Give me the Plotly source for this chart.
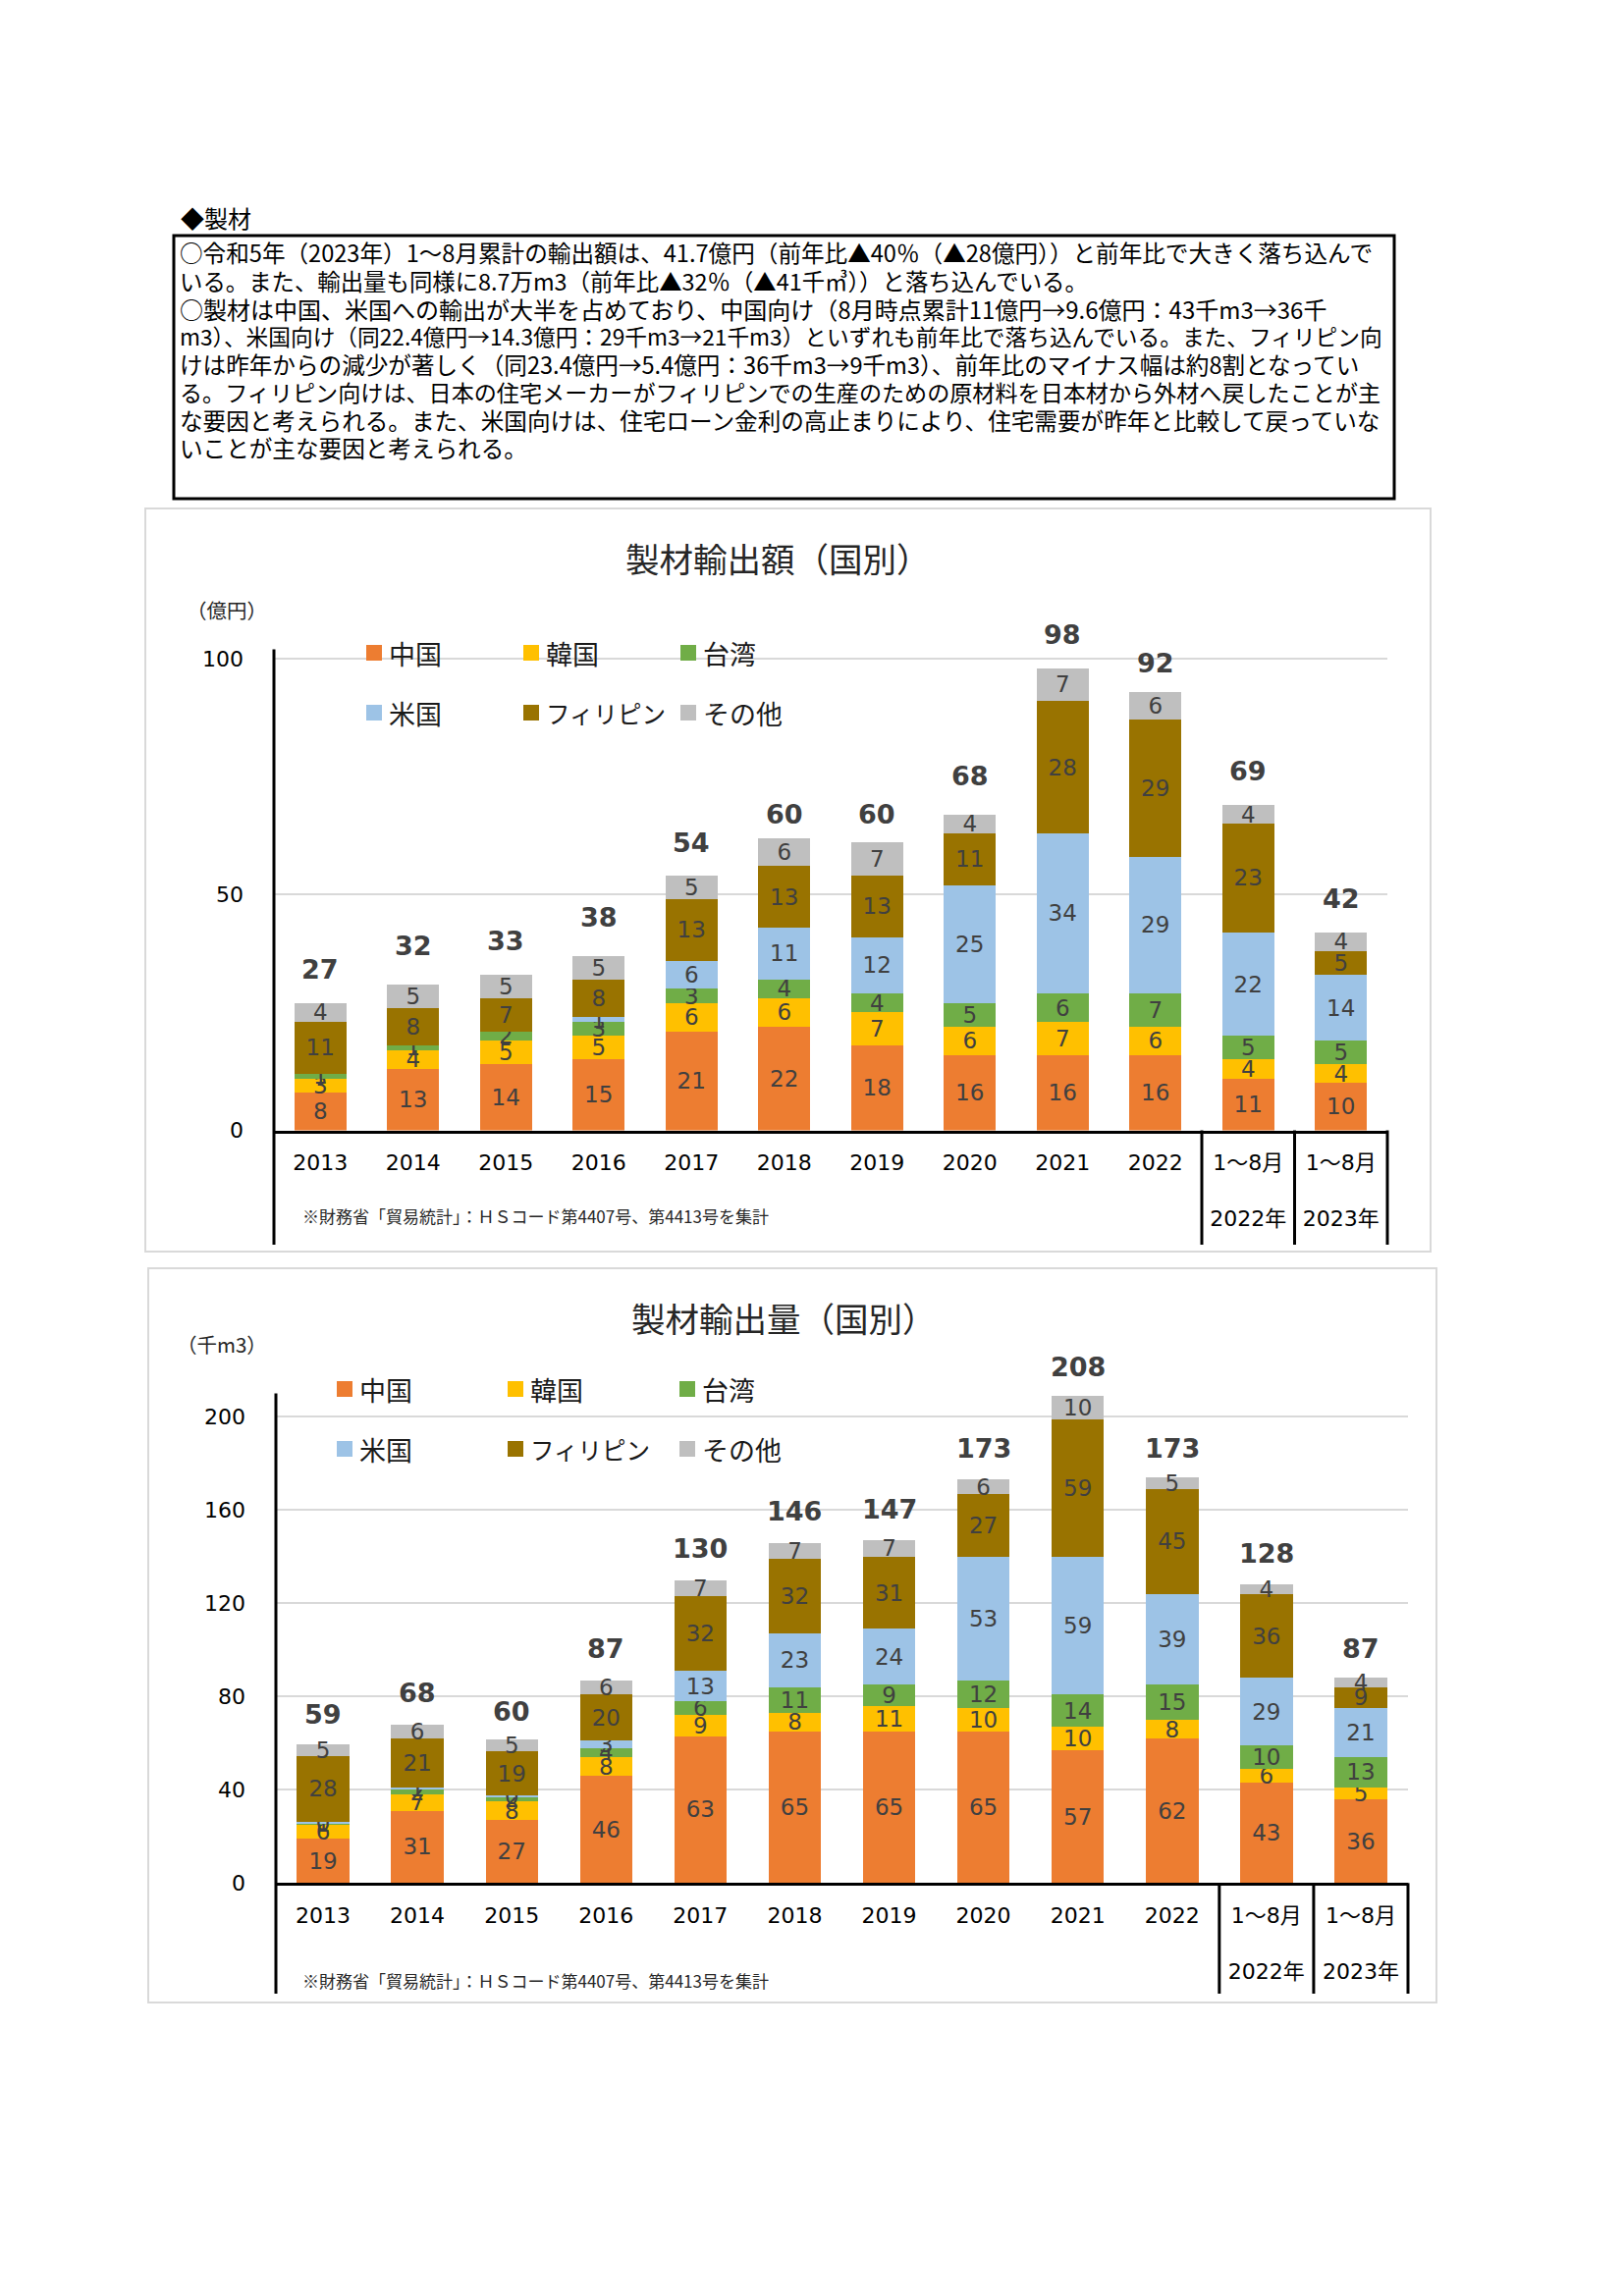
import plotly.graph_objects as go

W, H = 1654, 2339

# ---------------- data ----------------
categories = ["2013", "2014", "2015", "2016", "2017", "2018", "2019", "2020",
              "2021", "2022", "1～8月 2022年", "1～8月 2023年"]
tick_labels = ["2013", "2014", "2015", "2016", "2017", "2018", "2019", "2020",
               "2021", "2022", "1～8月<br> <br>2022年", "1～8月<br> <br>2023年"]

series_names = ["中国", "韓国", "台湾", "米国", "フィリピン", "その他"]
series_colors = ["#ED7D31", "#FFC000", "#70AD47", "#9DC3E6", "#997300", "#BFBFBF"]

# 製材輸出額 (億円)
value_china = [8, 13, 14, 15, 21, 22, 18, 16, 16, 16, 11, 10]
value_korea = [3, 4, 5, 5, 6, 6, 7, 6, 7, 6, 4, 4]
value_taiwan = [1, 1, 2, 3, 3, 4, 4, 5, 6, 7, 5, 5]
value_us = [None, None, None, 1, 6, 11, 12, 25, 34, 29, 22, 14]
value_phil = [11, 8, 7, 8, 13, 13, 13, 11, 28, 29, 23, 5]
value_other = [4, 5, 5, 5, 5, 6, 7, 4, 7, 6, 4, 4]
value_total = [27, 32, 33, 38, 54, 60, 60, 68, 98, 92, 69, 42]

# 製材輸出量 (千m3)
vol_china = [19, 31, 27, 46, 63, 65, 65, 65, 57, 62, 43, 36]
vol_korea = [6, 7, 8, 8, 9, 8, 11, 10, 10, 8, 6, 5]
vol_taiwan = [1, 2, 2, 4, 6, 11, 9, 12, 14, 15, 10, 13]
vol_us = [0.4, 1, 0.4, 3, 13, 23, 24, 53, 59, 39, 29, 21]
vol_phil = [28, 21, 19, 20, 32, 32, 31, 27, 59, 45, 36, 9]
vol_other = [5, 6, 5, 6, 7, 7, 7, 6, 10, 5, 4, 4]
vol_total = [59, 68, 60, 87, 130, 146, 147, 173, 208, 173, 128, 87]

header_text = "◆製材"
body_lines = [
    "○令和5年（2023年）1～8月累計の輸出額は、41.7億円（前年比▲40％（▲28億円））と前年比で大きく落ち込んで",
    "いる。また、輸出量も同様に8.7万m3（前年比▲32％（▲41千㎥））と落ち込んでいる。",
    "○製材は中国、米国への輸出が大半を占めており、中国向け（8月時点累計11億円→9.6億円：43千m3→36千",
    "m3）、米国向け（同22.4億円→14.3億円：29千m3→21千m3）といずれも前年比で落ち込んでいる。また、フィリピン向",
    "けは昨年からの減少が著しく（同23.4億円→5.4億円：36千m3→9千m3）、前年比のマイナス幅は約8割となってい",
    "る。フィリピン向けは、日本の住宅メーカーがフィリピンでの生産のための原材料を日本材から外材へ戻したことが主",
    "な要因と考えられる。また、米国向けは、住宅ローン金利の高止まりにより、住宅需要が昨年と比較して戻っていな",
    "いことが主な要因と考えられる。",
]
source_note = "※財務省「貿易統計」：ＨＳコード第4407号、第4413号を集計"

# ---------------- styles ----------------
JP = "Noto Sans CJK JP"
NUM = "DejaVu Sans, Noto Sans CJK JP"
body_line_sizes = [23.6, 23.4, 24.0, 22.7, 23.6, 23.1, 23.6, 23.6]
legend_sizes = {"フィリピン": 24.5}
LEGEND_SIZE = 27
LABEL_SIZE = 23
TOTAL_SIZE = 27


def px(x):
    return x / W


def py(y):
    return 1 - y / H


fig = go.Figure()
shapes = []
annotations = []

charts = [
    dict(title="製材輸出額（国別）", unit="（億円）",
         series=[value_china, value_korea, value_taiwan, value_us, value_phil, value_other],
         totals=value_total, xref="x", yref="y",
         x0=279, x1=1413, ybot=1151.5, ytop=661.4, yrange=[0, 102], dtick=50,
         frame=(148, 518, 1457, 1275), title_pos=(792, 568), unit_pos=(231, 621),
         leg_x=[373, 533, 693], leg_y=[665, 726], axis_bottom=1268,
         note_pos=(306, 1238), width=0.565, tshift=34),
    dict(title="製材輸出量（国別）", unit="（千m3）",
         series=[vol_china, vol_korea, vol_taiwan, vol_us, vol_phil, vol_other],
         totals=vol_total, xref="x2", yref="y2",
         x0=281, x1=1434, ybot=1918.3, ytop=1419.5, yrange=[0, 210], dtick=40,
         frame=(151, 1292, 1463, 2040), title_pos=(798, 1342), unit_pos=(226, 1369),
         leg_x=[343, 517, 692], leg_y=[1415, 1476], axis_bottom=2031,
         note_pos=(306, 2017), width=0.556, tshift=32),
]

for c in charts:
    # stacked bars
    for name, color, vals in zip(series_names, series_colors, c["series"]):
        fig.add_trace(go.Bar(
            x=categories, y=vals, name=name, width=c["width"],
            marker=dict(color=color, line=dict(width=0)),
            texttemplate="%{y:.0f}", textposition="inside",
            insidetextanchor="middle", textangle=0, constraintext="none",
            textfont=dict(family=NUM, size=LABEL_SIZE, color="#404040"),
            xaxis=c["xref"], yaxis=c["yref"], showlegend=False,
            hoverinfo="skip",
        ))
    # totals (x given as category index)
    for i, tot in enumerate(c["totals"]):
        annotations.append(dict(
            x=i, y=tot, xref=c["xref"], yref=c["yref"], text=f"<b>{tot}</b>",
            showarrow=False, yanchor="middle", xanchor="center", yshift=c["tshift"],
            font=dict(family=NUM, size=TOTAL_SIZE, color="#404040"),
        ))
    # frame
    fx0, fy0, fx1, fy1 = c["frame"]
    shapes.append(dict(type="rect", xref="paper", yref="paper",
                       x0=px(fx0), x1=px(fx1), y0=py(fy0), y1=py(fy1),
                       line=dict(color="#D9D9D9", width=2), fillcolor="rgba(0,0,0,0)",
                       layer="below"))
    # y axis line (extends below the category axis)
    shapes.append(dict(type="line", xref="paper", yref="paper",
                       x0=px(c["x0"]), x1=px(c["x0"]), y0=py(c["ytop"]), y1=py(c["axis_bottom"]),
                       line=dict(color="black", width=3)))
    # separators under the last two categories
    n = len(categories)
    for k in (n - 2, n - 1, n):
        xx = c["x0"] + (c["x1"] - c["x0"]) * k / n
        shapes.append(dict(type="line", xref="paper", yref="paper",
                           x0=px(xx), x1=px(xx), y0=py(c["ybot"]), y1=py(c["axis_bottom"]),
                           line=dict(color="black", width=3)))
    # title
    annotations.append(dict(x=px(c["title_pos"][0]), y=py(c["title_pos"][1]), xref="paper", yref="paper",
                            text=c["title"], showarrow=False, xanchor="center", yanchor="middle",
                            font=dict(family=JP, size=34.5, color="#262626")))
    # unit
    annotations.append(dict(x=px(c["unit_pos"][0]), y=py(c["unit_pos"][1]), xref="paper", yref="paper",
                            text=c["unit"], showarrow=False, xanchor="center", yanchor="middle",
                            font=dict(family=JP, size=20.5, color="#262626")))
    # source note
    annotations.append(dict(x=px(c["note_pos"][0]), y=py(c["note_pos"][1]), xref="paper", yref="paper",
                            text=source_note, showarrow=False, xanchor="left", yanchor="middle",
                            font=dict(family=JP, size=17, color="#262626")))
    # legend (3 x 2 grid)
    for i, (name, color) in enumerate(zip(series_names, series_colors)):
        lx = c["leg_x"][i % 3]
        ly = c["leg_y"][i // 3]
        shapes.append(dict(type="rect", xref="paper", yref="paper",
                           x0=px(lx), x1=px(lx + 16), y0=py(ly - 8), y1=py(ly + 8),
                           line=dict(width=0), fillcolor=color))
        annotations.append(dict(x=px(lx + 21), y=py(ly), xref="paper", yref="paper",
                                text=name, showarrow=False, xanchor="left", yanchor="middle",
                                font=dict(family=JP, size=legend_sizes.get(name, LEGEND_SIZE),
                                          color="#1a1a1a")))

# header and text box
annotations.append(dict(x=px(182), y=py(221), xref="paper", yref="paper", text=header_text,
                        showarrow=False, xanchor="left", yanchor="middle",
                        font=dict(family=JP, size=24, color="black")))
shapes.append(dict(type="rect", xref="paper", yref="paper",
                   x0=px(177), x1=px(1420), y0=py(240), y1=py(508),
                   line=dict(color="black", width=3), fillcolor="rgba(0,0,0,0)"))
for i, (line, size) in enumerate(zip(body_lines, body_line_sizes)):
    annotations.append(dict(x=px(181), y=py(257 + 28.5 * i), xref="paper", yref="paper", text=line,
                            showarrow=False, xanchor="left", yanchor="middle",
                            font=dict(family=JP, size=size, color="black")))

c1, c2 = charts


def xaxis_cfg(c, anchor):
    return dict(domain=[px(c["x0"]), px(c["x1"])], anchor=anchor, type="category",
                categoryorder="array", categoryarray=categories,
                range=[-0.5, len(categories) - 0.5], autorange=False,
                tickmode="array", tickvals=categories, ticktext=tick_labels, ticks="",
                tickangle=0, automargin=False,
                showline=True, linecolor="black", linewidth=3, mirror=False,
                showgrid=False, zeroline=False, ticklabelstandoff=11,
                tickfont=dict(family=NUM, size=22, color="black"), fixedrange=True)


def yaxis_cfg(c, anchor):
    return dict(domain=[py(c["ybot"]), py(c["ytop"])], anchor=anchor, range=c["yrange"],
                autorange=False, automargin=False,
                tick0=0, dtick=c["dtick"], ticks="", showline=False, zeroline=False,
                showgrid=True, gridcolor="#D9D9D9", gridwidth=2, ticklabelstandoff=30,
                tickfont=dict(family=NUM, size=22, color="black"), fixedrange=True)


fig.update_layout(
    width=W, height=H, margin=dict(l=0, r=0, t=0, b=0, autoexpand=False),
    paper_bgcolor="white", plot_bgcolor="rgba(0,0,0,0)",
    barmode="stack", showlegend=False,
    uniformtext=dict(minsize=LABEL_SIZE, mode="show"),
    xaxis=xaxis_cfg(c1, "y"), yaxis=yaxis_cfg(c1, "x"),
    xaxis2=xaxis_cfg(c2, "y2"), yaxis2=yaxis_cfg(c2, "x2"),
    shapes=shapes, annotations=annotations,
)

fig.write_html("out.html", post_script="document.body.style.margin='0';",
               config={"displayModeBar": False})
